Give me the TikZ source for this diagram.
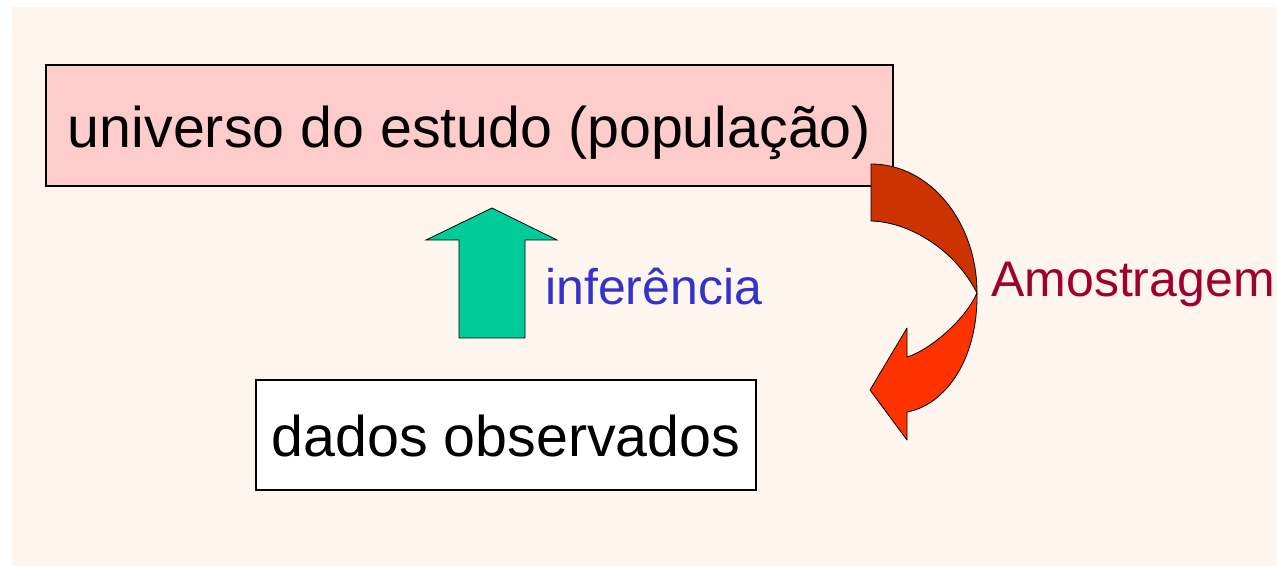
\documentclass[tikz,border=0pt]{standalone}
\usepackage{fontspec}
\setmainfont{Liberation Sans}
\usepackage{tikz}

\definecolor{fundo}{HTML}{FEF5EF}
\definecolor{rosa}{HTML}{FFCCCC}
\definecolor{verde}{HTML}{00CC99}
\definecolor{azul}{HTML}{3333CC}
\definecolor{vinho}{HTML}{A00030}
\definecolor{telha}{HTML}{CC3300}
\definecolor{laranja}{HTML}{FF3300}

\tikzset{
  caixa/.style={draw=black, line width=1pt, inner sep=0pt, text height=32.5pt, text depth=0pt, font=\fontsize{43}{50}\selectfont},
  rotulo/.style={anchor=base west, inner sep=0pt, font=\fontsize{37.5}{44}\selectfont}
}

\begin{document}
\begin{tikzpicture}[x=0.75pt,y=0.75pt,yscale=-1,xscale=1]
\useasboundingbox (0,0) rectangle (1277,566);
%Shape: Background
\fill [white] (0,0) rectangle (1277,566);
\fill [fundo] (12,7) rectangle (1277,566);

%Shape: Rectangle [id:pop]
\node (pop) [caixa, fill=rosa, minimum width=635.25pt, minimum height=90.75pt] at (469.5,125.5) {universo do estudo (população)};
%Shape: Rectangle [id:dados]
\node (dados) [caixa, fill=white, minimum width=375pt, minimum height=82.5pt] at (506,435) {dados observados};

%Shape: Up Arrow [id:setaInf]
\draw [fill=verde, line width=0.6pt] (459,338) -- (459,240) -- (426,240) -- (492,208) -- (557,240) -- (525,240) -- (525,338) -- cycle;
%Shape: Curved Arrow, back part [id:setaAmoA]
\draw [fill=telha, line width=0.6pt] (871,164) .. controls (930,164) and (977,222) .. (977,293) .. controls (955,250) and (910,222) .. (871,221) -- cycle;
%Shape: Curved Arrow, front part [id:setaAmoB]
\draw [fill=laranja, line width=0.6pt, line join=round] (977,293) .. controls (978,360) and (945,405) .. (907,412) -- (907,440) -- (870,390) -- (907,328) -- (907,357) .. controls (930,350) and (965,320) .. (977,293) -- cycle;

% Text Node
\node (infer) [rotulo, text=azul] at (545,305) {inferência};
% Text Node
\node (amost) [rotulo, text=vinho] at (991,297) {Amostragem};

\end{tikzpicture}
\end{document}
